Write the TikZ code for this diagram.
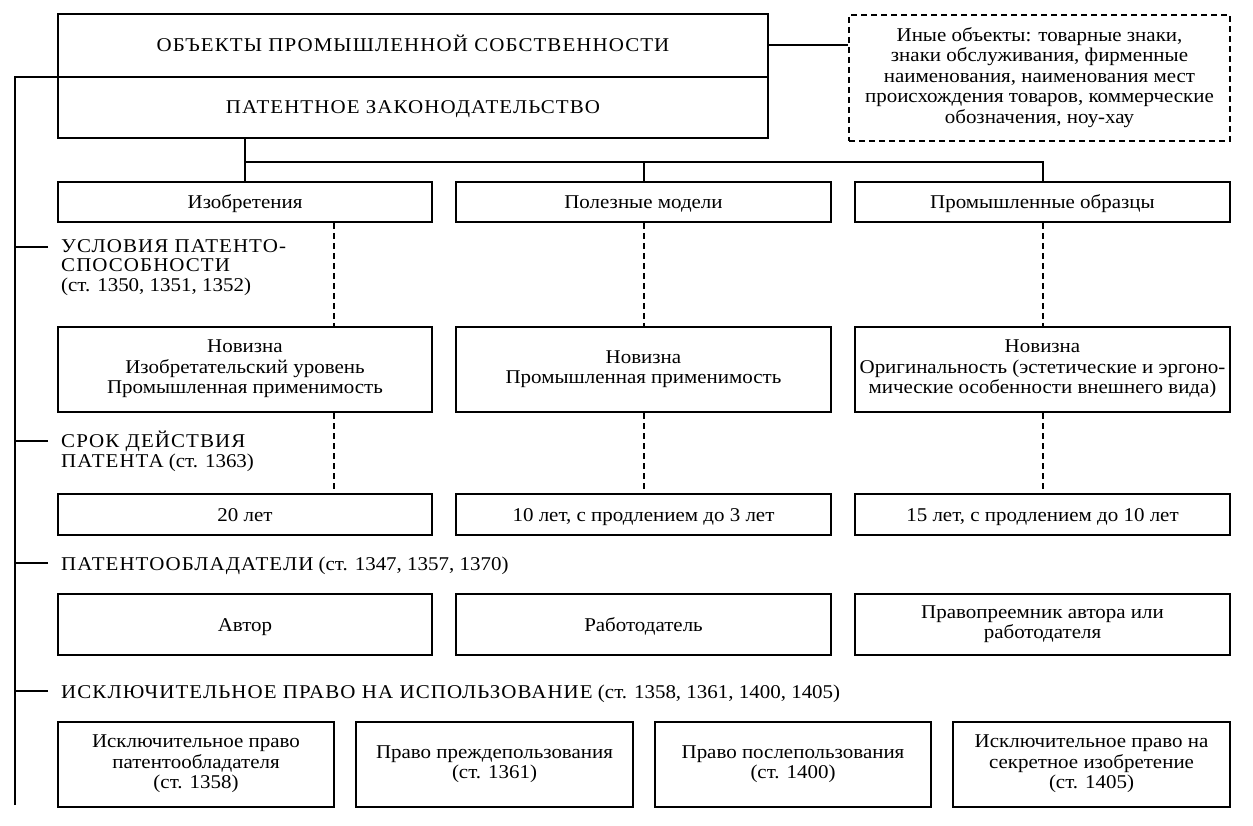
\documentclass[tikz,border=0pt]{standalone}
\usepackage{fontspec}
\setmainfont{Liberation Serif}[FakeStretch=1.075]
\newcommand{\ucx}[1]{{\addfontfeature{LetterSpace=5.5}#1}}
\newcommand{\tstr}{\rule{0pt}{18pt}}
\newcommand{\bstr}{\rule[-5pt]{0pt}{5pt}}
\begin{document}
\begin{tikzpicture}[x=1pt,y=-1pt,
  every node/.style={font=\fontsize{19.5}{20.5}\selectfont},
  box/.style={draw, line width=2pt, inner sep=0pt, align=center,
    execute at begin node={\tstr}, execute at end node={\bstr}},
  dbox/.style={box, dash pattern=on 6pt off 4pt},
  conn/.style={line width=2pt},
  dconn/.style={line width=2pt, dash pattern=on 6pt off 4pt},
  lbl/.style={inner sep=0pt, align=left, anchor=west, font=\fontsize{19.5}{19.5}\selectfont,
    execute at begin node={\tstr}, execute at end node={\bstr}}]
\useasboundingbox (0,0) rectangle (1253,826);
\fill[white] (0,0) rectangle (1253,826);

% top
\node[box, minimum width=710, minimum height=63] (obj) at (413,45.5) {\ucx{ОБЪЕКТЫ ПРОМЫШЛЕННОЙ СОБСТВЕННОСТИ}};
\node[box, minimum width=710, minimum height=61] (law) at (413,107.5) {\ucx{ПАТЕНТНОЕ ЗАКОНОДАТЕЛЬСТВО}};
\node[dbox, minimum width=381, minimum height=126] (other) at (1039.5,78) {Иные объекты: товарные знаки,\\знаки обслуживания, фирменные\\наименования, наименования мест\\происхождения товаров, коммерческие\\обозначения, ноу-хау};

% categories
\node[box, minimum width=374, minimum height=40] (inv) at (245,202) {Изобретения};
\node[box, minimum width=375, minimum height=40] (util) at (643.5,202) {Полезные модели};
\node[box, minimum width=375, minimum height=40] (des) at (1042.5,202) {Промышленные образцы};

% conditions
\node[box, minimum width=374, minimum height=85] (nov1) at (245,369.5) {Новизна\\Изобретательский уровень\\Промышленная применимость};
\node[box, minimum width=375, minimum height=85] (nov2) at (643.5,369.5) {Новизна\\Промышленная применимость};
\node[box, minimum width=375, minimum height=85] (nov3) at (1042.5,369.5) {Новизна\\Оригинальность (эстетические и эргоно-\\мические особенности внешнего вида)};

% terms
\node[box, minimum width=374, minimum height=41] (term1) at (245,514.5) {20 лет};
\node[box, minimum width=375, minimum height=41] (term2) at (643.5,514.5) {10 лет, с продлением до 3 лет};
\node[box, minimum width=375, minimum height=41] (term3) at (1042.5,514.5) {15 лет, с продлением до 10 лет};

% holders
\node[box, minimum width=374, minimum height=61] (h1) at (245,624.5) {Автор};
\node[box, minimum width=375, minimum height=61] (h2) at (643.5,624.5) {Работодатель};
\node[box, minimum width=375, minimum height=61] (h3) at (1042.5,624.5) {Правопреемник автора или\\работодателя};

% rights
\node[box, minimum width=276, minimum height=85] (r1) at (196,764.5) {Исключительное право\\патентообладателя\\(ст. 1358)};
\node[box, minimum width=277, minimum height=85] (r2) at (494.5,764.5) {Право преждепользования\\(ст. 1361)};
\node[box, minimum width=276, minimum height=85] (r3) at (793,764.5) {Право послепользования\\(ст. 1400)};
\node[box, minimum width=277, minimum height=85] (r4) at (1091.5,764.5) {Исключительное право на\\секретное изобретение\\(ст. 1405)};

% labels
\node[lbl] (l1) at (61,268) {\ucx{УСЛОВИЯ ПАТЕНТО-}\\\ucx{СПОСОБНОСТИ}\\(ст. 1350, 1351, 1352)};
\node[lbl] (l2) at (61,451.5) {\ucx{СРОК ДЕЙСТВИЯ}\\\ucx{ПАТЕНТА} (ст. 1363)};
\node[lbl] (l3) at (61,563.5) {\ucx{ПАТЕНТООБЛАДАТЕЛИ} (ст. 1347, 1357, 1370)};
\node[lbl] (l4) at (61,691.5) {\ucx{ИСКЛЮЧИТЕЛЬНОЕ ПРАВО НА ИСПОЛЬЗОВАНИЕ} (ст. 1358, 1361, 1400, 1405)};

% rail
\coordinate (railtop) at (15,77);
\coordinate (railbot) at (15,805);
\coordinate (t1) at (48,247);
\coordinate (t2) at (48,441);
\coordinate (t3) at (48,563);
\coordinate (t4) at (48,691);
\draw[conn] (railbot) -- (railtop) -- (railtop -| law.west);
\foreach \t in {t1,t2,t3,t4} \draw[conn] (\t) -- (\t -| railtop);

% connectors
\draw[conn] (obj.east) -- (obj.east -| other.west);
\coordinate (hb) at (0,162);
\draw[conn] (law.south -| inv.north) -- (inv.north);
\draw[conn] (inv.north |- hb) -| (util.north);
\draw[conn] (inv.north |- hb) -| (des.north);

\coordinate (c1) at (334,0);
\draw[dconn] (inv.south -| c1) -- (nov1.north -| c1);
\draw[dconn] (nov1.south -| c1) -- (term1.north -| c1);
\draw[dconn] (util.south) -- (nov2.north);
\draw[dconn] (nov2.south) -- (term2.north);
\draw[dconn] (des.south) -- (nov3.north);
\draw[dconn] (nov3.south) -- (term3.north);
\end{tikzpicture}
\end{document}
